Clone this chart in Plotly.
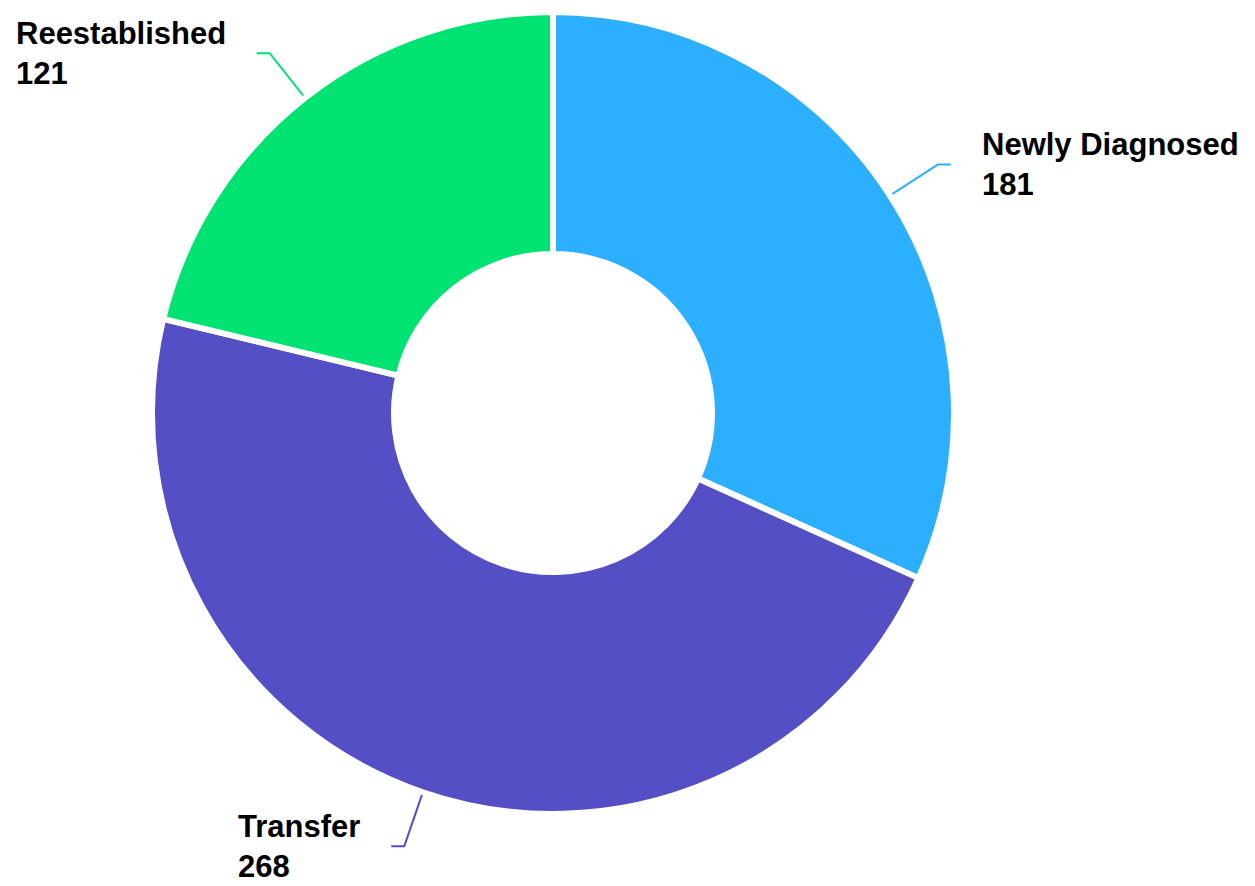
import math
import plotly.graph_objects as go

# ---- data ----
labels = ["Newly Diagnosed", "Transfer", "Reestablished"]
values = [181, 268, 121]
colors = ["#2caffe", "#544fc5", "#00e272"]

# ---- layout constants (pixels) ----
W, H = 1255, 886
CX, CY = 553, 413          # pie centre
R_VIS = 398                # visible outer radius
GAP = 6                    # white gap between slices
R_PIE = R_VIS + GAP / 2
HOLE_VIS = 162
HOLE = (HOLE_VIS - GAP / 2) / R_PIE

fig = go.Figure()

fig.add_trace(go.Pie(
    labels=labels,
    values=values,
    marker=dict(colors=colors, line=dict(color="#ffffff", width=GAP)),
    hole=HOLE,
    sort=False,
    direction="clockwise",
    rotation=0,
    textinfo="none",
    hoverinfo="label+value",
    showlegend=False,
    domain=dict(
        x=[(CX - R_PIE) / W, (CX + R_PIE) / W],
        y=[(H - CY - R_PIE) / H, (H - CY + R_PIE) / H],
    ),
))

# ---- leader lines + labels, positioned from the data ----
total = sum(values)
cum = 0
annotations = []
R_START, R_ELBOW, HSEG, TXT_OFF = 400, 458, 13, 43
for lab, val, col in zip(labels, values, colors):
    frac = (cum + val / 2) / total
    cum += val
    th = 2 * math.pi * frac
    s, c = math.sin(th), math.cos(th)
    side = 1 if s >= 0 else -1
    x0, y0 = CX + R_START * s, CY - R_START * c
    x1, y1 = CX + R_ELBOW * s, CY - R_ELBOW * c
    x2 = x1 + side * HSEG
    fig.add_trace(go.Scatter(
        x=[x0, x1, x2], y=[y0, y1, y1], mode="lines",
        line=dict(color=col, width=2), hoverinfo="skip", showlegend=False,
        cliponaxis=False,
    ))
    annotations.append(dict(
        x=x1 + side * TXT_OFF, y=y1, xref="x", yref="y",
        text=f"<b>{lab}</b><br><b>{val}</b>",
        showarrow=False,
        xanchor="left" if side > 0 else "right",
        yanchor="middle", align="left",
        borderpad=0,
        font=dict(family="Liberation Sans, Arial, sans-serif", size=31, color="#000000"),
    ))

fig.update_layout(
    width=W, height=H,
    margin=dict(l=0, r=0, t=0, b=0),
    paper_bgcolor="#ffffff",
    plot_bgcolor="rgba(0,0,0,0)",
    xaxis=dict(range=[0, W], visible=False, fixedrange=True),
    yaxis=dict(range=[H, 0], visible=False, fixedrange=True),
    annotations=annotations,
    showlegend=False,
)

fig.write_html("out.html")
